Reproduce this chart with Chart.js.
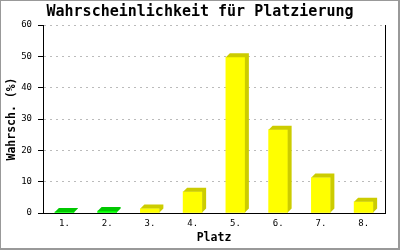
<!DOCTYPE html>
<html>
<head>
<meta charset="utf-8">
<script src="https://cdn.jsdelivr.net/npm/chart.js@4/dist/chart.umd.min.js"></script>
<style>
  body { margin: 0; background: #fff; }
  canvas { display: block; }
</style>
</head>
<body>
<canvas id="myChart" width="400" height="250"></canvas>
<script>
var places = ['1.', '2.', '3.', '4.', '5.', '6.', '7.', '8.'];
var probs = [0.3, 0.6, 1.4, 6.8, 49.7, 26.6, 11.3, 3.6];
var yTicks = [0, 10, 20, 30, 40, 50, 60];

var fontMono = "'DejaVu Sans Mono', 'Liberation Mono', monospace";

// front colour / darker side colour per bar
var frontColors = ['#00ff00', '#00ff00', '#ffff00', '#ffff00', '#ffff00', '#ffff00', '#ffff00', '#ffff00'];
var sideColors = ['#00c800', '#00c800', '#cccc00', '#cccc00', '#cccc00', '#cccc00', '#cccc00', '#cccc00'];

// fake 3d look: side + top faces drawn from the bar elements
var bars3d = {
    id: 'bars3d',
    afterDatasetsDraw: function(chart) {
        var c = chart.ctx;
        var d = 4;
        chart.getDatasetMeta(0).data.forEach(function(bar, i) {
            var p = bar.getProps(['x', 'y', 'base', 'width'], true);
            var l = p.x - p.width / 2, r = p.x + p.width / 2;
            c.save();
            c.fillStyle = sideColors[i];
            c.beginPath();
            c.moveTo(l, p.y);
            c.lineTo(l + d, p.y - d);
            c.lineTo(r + d, p.y - d);
            c.lineTo(r + d, p.base - d);
            c.lineTo(r, p.base);
            c.lineTo(r, p.y);
            c.closePath();
            c.fill();
            c.restore();
        });
    },
    afterDraw: function(chart) {
        var c = chart.ctx;
        var a = chart.chartArea;
        c.save();
        c.strokeStyle = '#000';
        c.lineWidth = 1;
        c.beginPath();
        c.moveTo(Math.round(a.right) + 0.5, a.top);
        c.lineTo(Math.round(a.right) + 0.5, a.bottom);
        c.stroke();
        // outer frame
        c.strokeStyle = '#999';
        c.lineWidth = 2;
        c.strokeRect(0, 0, 399, 249);
        c.restore();
    }
};

var ctx = document.querySelector('#myChart').getContext('2d');
var myChart = new Chart(ctx, {
    type: 'bar',
    data: {
        labels: places,
        datasets: [{
            data: probs,
            backgroundColor: frontColors,
            borderWidth: 0,
            barThickness: 19
        }]
    },
    options: {
        responsive: false,
        animation: false,
        layout: { padding: 0 },
        plugins: {
            legend: { display: false },
            tooltip: { enabled: false },
            title: {
                display: true,
                text: 'Wahrscheinlichkeit für Platzierung',
                color: '#000',
                font: { family: fontMono, size: 15, weight: 'bold', lineHeight: 1.2 },
                padding: { top: 3, bottom: 4 }
            }
        },
        scales: {
            x: {
                grid: { display: false, drawTicks: false },
                border: { display: true, color: '#000', width: 1 },
                ticks: { color: '#000', padding: 5, font: { family: fontMono, size: 9 } },
                title: {
                    display: true,
                    text: 'Platz',
                    color: '#000',
                    font: { family: fontMono, size: 11.5, weight: 'bold', lineHeight: 1.2 },
                    padding: { top: 0, bottom: 5 }
                },
                afterFit: function(s) { s.height = 37; }
            },
            y: {
                min: yTicks[0],
                max: yTicks[yTicks.length - 1],
                afterBuildTicks: function(s) {
                    s.ticks = yTicks.map(function(v) { return { value: v }; });
                },
                grid: {
                    color: function(c) { return c.tick && c.tick.value === 0 ? 'rgba(0,0,0,0)' : '#bbbbbb'; },
                    tickColor: '#000',
                    tickLength: 5,
                    lineWidth: 1
                },
                border: { display: true, color: '#000', width: 1, dash: [2, 4] },
                ticks: { color: '#000', padding: 6, font: { family: fontMono, size: 9 } },
                title: {
                    display: true,
                    text: 'Wahrsch. (%)',
                    color: '#000',
                    font: { family: fontMono, size: 11.5, weight: 'bold', lineHeight: 1.2 },
                    padding: { top: 5, bottom: 0 }
                },
                afterFit: function(s) { s.width = 43; }
            },
            yr: {
                position: 'right',
                display: true,
                grid: { display: false },
                border: { display: false },
                ticks: { display: false },
                afterFit: function(s) { s.width = 15; }
            }
        }
    },
    plugins: [bars3d]
});
</script>
</body>
</html>
